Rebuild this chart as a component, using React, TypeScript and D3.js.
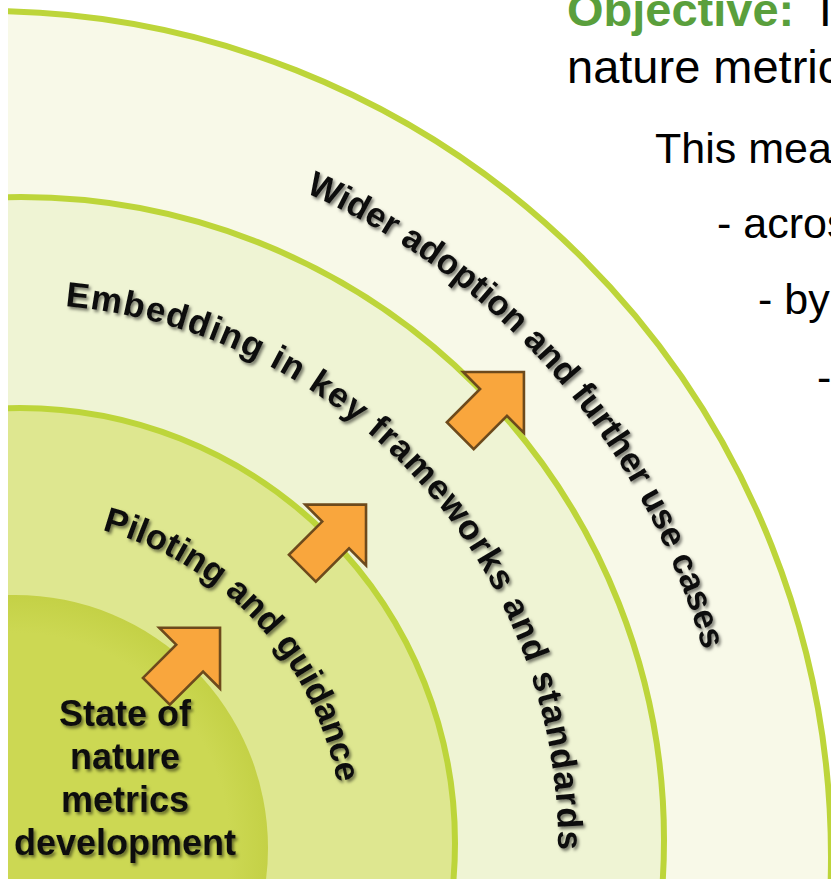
import React from 'react';
import * as d3 from 'd3';

// stage labels, innermost first
const stages = [
  'State of nature metrics development',
  'Piloting and guidance',
  'Embedding in key frameworks and standards',
  'Wider adoption and further use cases',
];
const centerLines = ['State of', 'nature', 'metrics', 'development'];
const objectiveHead = 'Objective:';
const objectiveRest = 'T';
const objectiveLine2 = 'nature metrics';
const meansLines = ['This means', '- across', '- by', '-'];

const W = 831;
const H = 879;
const FONT = "'Liberation Sans', Arial, Helvetica, sans-serif";

// ring geometry, outermost first (fitted to the picture)
const ringGeom = [
  { cx: -15, cy: 857, r: 846 },
  { cx: 21, cy: 840, r: 643 },
  { cx: 20, cy: 843, r: 435 },
  { cx: 15, cy: 848, r: 253 },
];
const ringFill = d3.scaleOrdinal<number, string>()
  .domain([0, 1, 2, 3])
  .range(['#f8f9e8', '#eff4d4', '#dee790', '#ccd853']);

const toRad = (deg: number) => ((deg - 90) * Math.PI) / 180;

function arcPath(cx: number, cy: number, r: number, a0: number, a1: number) {
  const p = d3.path();
  const t0 = toRad(a0);
  p.moveTo(cx + r * Math.cos(t0), cy + r * Math.sin(t0));
  p.arc(cx, cy, r, t0, toRad(a1), false);
  return p.toString();
}

function circlePath(cx: number, cy: number, r: number) {
  const p = d3.path();
  p.moveTo(cx + r, cy);
  p.arc(cx, cy, r, 0, Math.PI * 2);
  p.closePath();
  return p.toString();
}

// block arrow pointing +x, tip at (43,0)
function arrowPath() {
  const p = d3.path();
  p.moveTo(43, 0);
  p.lineTo(0, 43);
  p.lineTo(0, 19);
  p.lineTo(-47, 19);
  p.lineTo(-47, -19);
  p.lineTo(0, -19);
  p.lineTo(0, -43);
  p.closePath();
  return p.toString();
}

const TC = { cx: 18, cy: 844 }; // centre for curved labels
const labelArcs = [
  { r: 325, start: 15, spacing: 0 },
  { r: 540, start: 5, spacing: 1.3 },
  { r: 712, start: 23.8, spacing: 0 },
];
const arrowAt = [
  { ring: 3, angle: 42.6, off: 5 },
  { ring: 2, angle: 45.7, off: 6 },
  { ring: 1, angle: 47.2, off: 1 },
];

export default function App() {
  const arrow = arrowPath();
  return (
    <svg width={W} height={H} style={{ position: 'absolute', left: 0, top: 0, display: 'block', background: '#fff' }}
      fontFamily={FONT}>
      <defs>
        <clipPath id="area">
          <rect x={8} y={0} width={W - 8} height={H} />
        </clipPath>
        <filter id="shadow" x="-20%" y="-20%" width="140%" height="140%">
          <feDropShadow dx="2" dy="2.5" stdDeviation="1.7" floodColor="#000" floodOpacity="0.5" />
        </filter>
        <radialGradient id="innerGrad" cx="0.5" cy="0.5" r="0.5">
          <stop offset="0.85" stopColor="#ccd853" />
          <stop offset="1" stopColor="#c4d146" />
        </radialGradient>
        {labelArcs.map((a, i) => (
          <path key={i} id={`lab${i}`} d={arcPath(TC.cx, TC.cy, a.r, a.start, 100)} />
        ))}
      </defs>

      <g clipPath="url(#area)">
        {ringGeom.map((g, i) => (
          <path key={i} d={circlePath(g.cx, g.cy, g.r)}
            fill={i === 3 ? 'url(#innerGrad)' : ringFill(i)}
            stroke={i === 3 ? 'none' : '#bdd53a'}
            strokeWidth={6} />
        ))}

        {arrowAt.map((a, i) => {
          const g = ringGeom[a.ring];
          const t = toRad(a.angle);
          const x = g.cx + (g.r + a.off) * Math.cos(t);
          const y = g.cy + (g.r + a.off) * Math.sin(t);
          return (
            <path key={i} d={arrow} transform={`translate(${x},${y}) rotate(-45)`}
              fill="#f9a63d" stroke="#6d4a1c" strokeWidth={2.6} strokeLinejoin="miter" />
          );
        })}

        <g filter="url(#shadow)" fill="#111" fontWeight="bold" fontSize={35}>
          {stages.slice(1).map((s, i) => (
            <text key={i} letterSpacing={labelArcs[i].spacing}>
              <textPath href={`#lab${i}`}>{s}</textPath>
            </text>
          ))}
        </g>

        <g filter="url(#shadow)" fill="#111" fontWeight="bold" fontSize={36} textAnchor="middle">
          {centerLines.map((l, i) => (
            <text key={i} x={125} y={726 + i * 43}>{l}</text>
          ))}
        </g>
      </g>

      <text x={567} y={26} fontSize={47} fontWeight="bold" fill="#5a9f3c">
        {objectiveHead}
        <tspan x={811} fontWeight="normal" fill="#000">{objectiveRest}</tspan>
      </text>
      <text x={567} y={83} fontSize={47} fill="#000">{objectiveLine2}</text>
      {meansLines.map((l, i) => (
        <text key={i} x={[655, 717, 758, 817][i]} y={[163, 238, 314, 392][i]} fontSize={43} fill="#000">{l}</text>
      ))}
    </svg>
  );
}
